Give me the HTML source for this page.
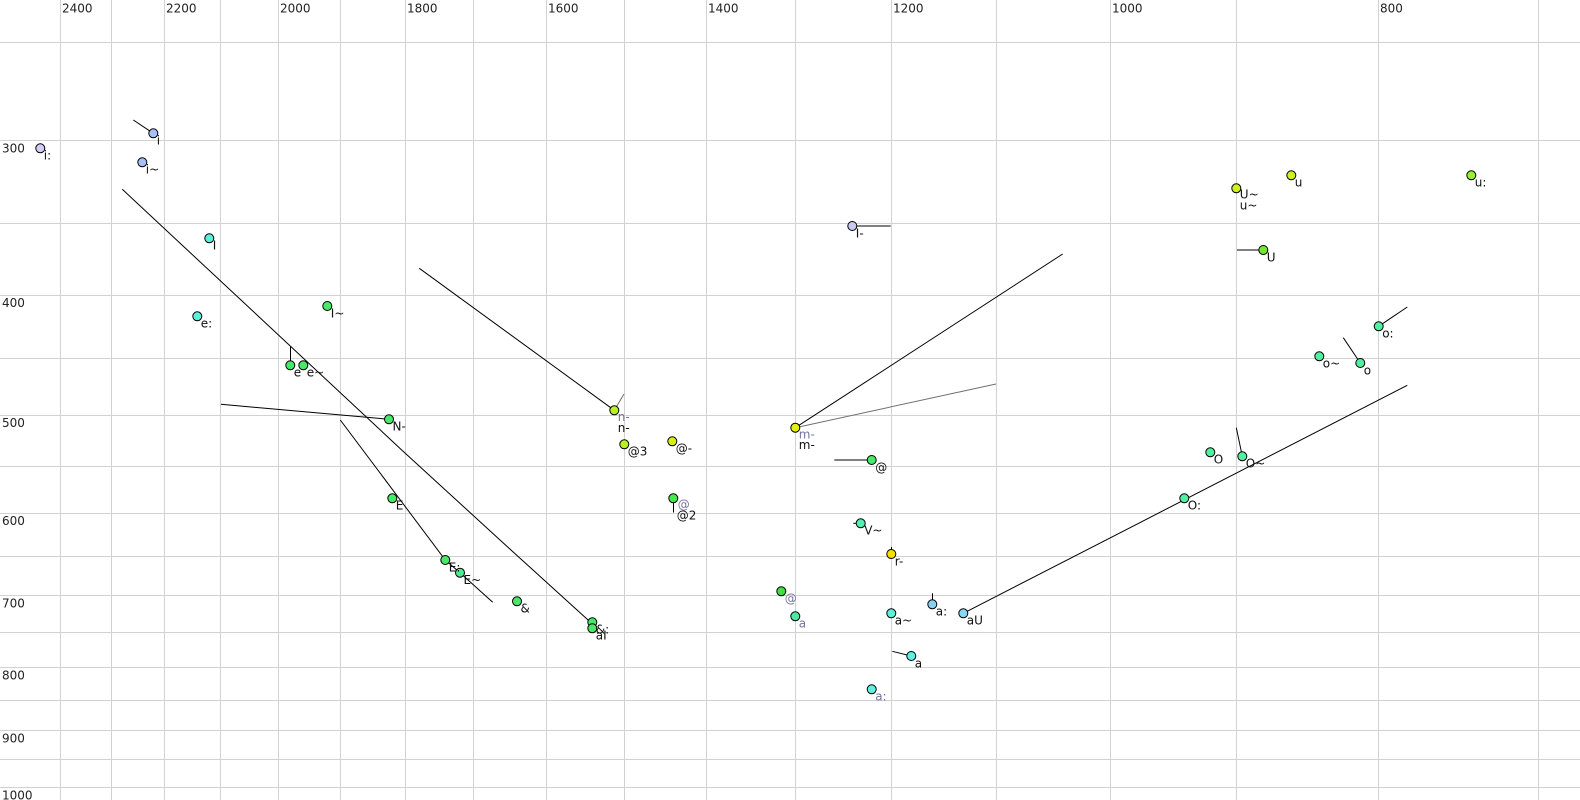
<!DOCTYPE html>
<html><head><meta charset="utf-8">
<style>
html,body{margin:0;padding:0;background:#fff;}
svg{display:block;}
text{font-family:"DejaVu Sans","Liberation Sans",sans-serif;font-size:12px;}
.ax{fill:#222;}
.lb{fill:#111;}
.gl{fill:#7474a0;}
.g{stroke:#d2d2d2;stroke-width:1;}
.pt{stroke:#000;stroke-width:1;}
.ln{stroke:#000;stroke-width:1;fill:none;}
.lg{stroke:#707070;stroke-width:1;fill:none;}
</style></head>
<body>
<svg width="1580" height="800" viewBox="0 0 1580 800" xmlns="http://www.w3.org/2000/svg">
<rect x="0" y="0" width="1580" height="800" fill="#fff"/>
<!-- vertical grid -->
<g class="g">
<line x1="60.5" y1="0" x2="60.5" y2="800"/>
<line x1="111.5" y1="0" x2="111.5" y2="800"/>
<line x1="164.5" y1="0" x2="164.5" y2="800"/>
<line x1="220.5" y1="0" x2="220.5" y2="800"/>
<line x1="278.5" y1="0" x2="278.5" y2="800"/>
<line x1="340.5" y1="0" x2="340.5" y2="800"/>
<line x1="405.5" y1="0" x2="405.5" y2="800"/>
<line x1="473.5" y1="0" x2="473.5" y2="800"/>
<line x1="546.5" y1="0" x2="546.5" y2="800"/>
<line x1="624.5" y1="0" x2="624.5" y2="800"/>
<line x1="706.5" y1="0" x2="706.5" y2="800"/>
<line x1="795.5" y1="0" x2="795.5" y2="800"/>
<line x1="891.5" y1="0" x2="891.5" y2="800"/>
<line x1="996.5" y1="0" x2="996.5" y2="800"/>
<line x1="1110.5" y1="0" x2="1110.5" y2="800"/>
<line x1="1236.5" y1="0" x2="1236.5" y2="800"/>
<line x1="1378.5" y1="0" x2="1378.5" y2="800"/>
<line x1="1538.5" y1="0" x2="1538.5" y2="800"/>
<!-- horizontal grid -->
<line x1="0" y1="42.5" x2="1580" y2="42.5"/>
<line x1="0" y1="140.5" x2="1580" y2="140.5"/>
<line x1="0" y1="223.5" x2="1580" y2="223.5"/>
<line x1="0" y1="295.5" x2="1580" y2="295.5"/>
<line x1="0" y1="358.5" x2="1580" y2="358.5"/>
<line x1="0" y1="415.5" x2="1580" y2="415.5"/>
<line x1="0" y1="466.5" x2="1580" y2="466.5"/>
<line x1="0" y1="513.5" x2="1580" y2="513.5"/>
<line x1="0" y1="556.5" x2="1580" y2="556.5"/>
<line x1="0" y1="595.5" x2="1580" y2="595.5"/>
<line x1="0" y1="632.5" x2="1580" y2="632.5"/>
<line x1="0" y1="667.5" x2="1580" y2="667.5"/>
<line x1="0" y1="700.5" x2="1580" y2="700.5"/>
<line x1="0" y1="730.5" x2="1580" y2="730.5"/>
<line x1="0" y1="759.5" x2="1580" y2="759.5"/>
<line x1="0" y1="787.5" x2="1580" y2="787.5"/>
</g>
<!-- axis labels -->
<g class="ax">
<text x="62" y="12.5">2400</text>
<text x="166" y="12.5">2200</text>
<text x="280" y="12.5">2000</text>
<text x="407" y="12.5">1800</text>
<text x="548" y="12.5">1600</text>
<text x="708" y="12.5">1400</text>
<text x="893" y="12.5">1200</text>
<text x="1112" y="12.5">1000</text>
<text x="1380" y="12.5">800</text>
<text x="2" y="152.5">300</text>
<text x="2" y="307">400</text>
<text x="2" y="427">500</text>
<text x="2" y="525">600</text>
<text x="2" y="607.5">700</text>
<text x="2" y="679.5">800</text>
<text x="2" y="742.5">900</text>
<text x="2" y="799.5">1000</text>
</g>
<!-- trajectory lines -->
<g class="ln">
<line x1="133.3" y1="120" x2="153.3" y2="133.3"/>
<line x1="290.5" y1="346.7" x2="290.5" y2="365.3"/>
<line x1="221" y1="404.3" x2="389" y2="419.3"/>
<polyline points="340.3,420 445.3,560 460,572.7 492.7,602.3"/>
<polyline points="122.3,189.3 401.7,450 500,540 590,621.7"/>
<line x1="419.3" y1="268.3" x2="614.3" y2="410.3"/>
<line x1="673.5" y1="498.3" x2="673.5" y2="512.5"/>
<line x1="852.3" y1="226" x2="890.7" y2="226"/>
<line x1="795.3" y1="427.7" x2="1062.7" y2="254"/>
<line x1="834.3" y1="460" x2="871.7" y2="460"/>
<line x1="853.3" y1="523.3" x2="860.7" y2="523.3"/>
<line x1="891.5" y1="547" x2="891.5" y2="554"/>
<line x1="795.5" y1="611.5" x2="795.5" y2="616.3"/>
<line x1="932.5" y1="593.3" x2="932.5" y2="604.3"/>
<line x1="963.3" y1="613.3" x2="1407.3" y2="385.3"/>
<line x1="892.3" y1="651.3" x2="911.3" y2="656"/>
<line x1="1237" y1="250" x2="1263.3" y2="250"/>
<line x1="1378.7" y1="326.3" x2="1407.3" y2="307"/>
<line x1="1343.3" y1="337.7" x2="1360.3" y2="363"/>
<line x1="1236.3" y1="427.7" x2="1242.3" y2="456.3"/>
</g>
<g class="lg">
<line x1="614.3" y1="410.3" x2="624" y2="394"/>
<line x1="795.3" y1="427.7" x2="996" y2="384"/>
</g>
<!-- points -->
<g class="pt">
<circle cx="40.3" cy="148.3" r="4.5" fill="#d6ccf8"/>
<circle cx="153.3" cy="133.3" r="4.5" fill="#a8c0f8"/>
<circle cx="142.3" cy="162.3" r="4.5" fill="#a8c0f8"/>
<circle cx="209.3" cy="238.3" r="4.5" fill="#58f0d8"/>
<circle cx="197.3" cy="316.3" r="4.5" fill="#58f0d8"/>
<circle cx="327.3" cy="306" r="4.5" fill="#48e868"/>
<circle cx="290.3" cy="365.3" r="4.5" fill="#48e868"/>
<circle cx="303.3" cy="365.3" r="4.5" fill="#48e868"/>
<circle cx="389" cy="419.3" r="4.5" fill="#48e868"/>
<circle cx="392.3" cy="498.3" r="4.5" fill="#48e868"/>
<circle cx="445.3" cy="560" r="4.5" fill="#48e868"/>
<circle cx="460" cy="572.7" r="4.5" fill="#50e890"/>
<circle cx="517" cy="601.3" r="4.5" fill="#48e868"/>
<circle cx="592.3" cy="622.3" r="4.5" fill="#48e868"/>
<circle cx="592.3" cy="628.3" r="4.5" fill="#48e868"/>
<circle cx="614.3" cy="410.3" r="4.5" fill="#b8f020"/>
<circle cx="624.3" cy="444.3" r="4.5" fill="#b8f020"/>
<circle cx="672.3" cy="441.3" r="4.5" fill="#d8f010"/>
<circle cx="673.3" cy="498.3" r="4.5" fill="#48e848"/>
<circle cx="852.3" cy="226" r="4.5" fill="#c8c8f0"/>
<circle cx="795.3" cy="427.7" r="4.5" fill="#e4f010"/>
<circle cx="871.7" cy="460" r="4.5" fill="#48e868"/>
<circle cx="860.7" cy="523.3" r="4.5" fill="#50f0b0"/>
<circle cx="891.3" cy="554" r="4.5" fill="#f4e000"/>
<circle cx="781.3" cy="591.3" r="4.5" fill="#40e040"/>
<circle cx="795.3" cy="616.3" r="4.5" fill="#50e8a0"/>
<circle cx="891.3" cy="613.3" r="4.5" fill="#60f0d8"/>
<circle cx="932.3" cy="604.3" r="4.5" fill="#88d0f0"/>
<circle cx="963.3" cy="613.3" r="4.5" fill="#88d8f4"/>
<circle cx="911.3" cy="656" r="4.5" fill="#60f0e0"/>
<circle cx="871.7" cy="689.3" r="4.5" fill="#60f0e0"/>
<circle cx="1236.3" cy="188.3" r="4.5" fill="#d0f020"/>
<circle cx="1291.3" cy="175.3" r="4.5" fill="#d0f020"/>
<circle cx="1471.3" cy="175.3" r="4.5" fill="#98f030"/>
<circle cx="1263.3" cy="250" r="4.5" fill="#70e830"/>
<circle cx="1378.7" cy="326.3" r="4.5" fill="#50f0a0"/>
<circle cx="1319.3" cy="356.3" r="4.5" fill="#50f0a0"/>
<circle cx="1360.3" cy="363" r="4.5" fill="#50f0a0"/>
<circle cx="1210.3" cy="452.3" r="4.5" fill="#50f0a0"/>
<circle cx="1242.3" cy="456.3" r="4.5" fill="#50f0a0"/>
<circle cx="1184.3" cy="498.3" r="4.5" fill="#50f0a0"/>
</g>
<!-- labels -->
<g class="lb">
<text x="43.8" y="159.6">i:</text>
<text x="156.8" y="144.6">i</text>
<text x="145.8" y="173.6">i~</text>
<text x="212.8" y="249.6">I</text>
<text x="200.8" y="327.6">e:</text>
<text x="330.8" y="317.3">I~</text>
<text x="293.8" y="376.6">e</text>
<text x="306.8" y="376.6">e~</text>
<text x="392.5" y="430.6">N-</text>
<text x="395.8" y="509.6">E</text>
<text x="448.8" y="571.3">E:</text>
<text x="463.5" y="584">E~</text>
<text x="520.5" y="612.6">&amp;</text>
<text x="595.8" y="633.6">&amp;:</text>
<text x="595.8" y="639.6">aI</text>
<text x="617.8" y="432">n-</text>
<text x="627.8" y="455.6">@3</text>
<text x="675.8" y="452.6">@-</text>
<text x="676.8" y="519.5">@2</text>
<text x="855.8" y="237.3">I-</text>
<text x="798.8" y="449">m-</text>
<text x="875.2" y="471.3">@</text>
<text x="864.2" y="534.6">V~</text>
<text x="894.8" y="565.3">r-</text>
<text x="894.8" y="624.6">a~</text>
<text x="935.8" y="615.6">a:</text>
<text x="966.8" y="624.6">aU</text>
<text x="914.8" y="667.3">a</text>
<text x="1239.8" y="198.6">U~</text>
<text x="1239.8" y="209.5">u~</text>
<text x="1294.8" y="186.6">u</text>
<text x="1474.8" y="186.6">u:</text>
<text x="1266.8" y="261.3">U</text>
<text x="1382.2" y="337.6">o:</text>
<text x="1322.8" y="367.6">o~</text>
<text x="1363.8" y="374.3">o</text>
<text x="1213.8" y="463.6">O</text>
<text x="1245.8" y="467.6">O~</text>
<text x="1187.8" y="509.6">O:</text>
</g>
<g class="gl">
<text x="617.8" y="421">n-</text>
<text x="677.8" y="508.5">@</text>
<text x="798.8" y="438.5">m-</text>
<text x="784.8" y="602.6">@</text>
<text x="798.8" y="627.6">a</text>
<text x="875.2" y="700.6">a:</text>
</g>
</svg>
</body></html>
